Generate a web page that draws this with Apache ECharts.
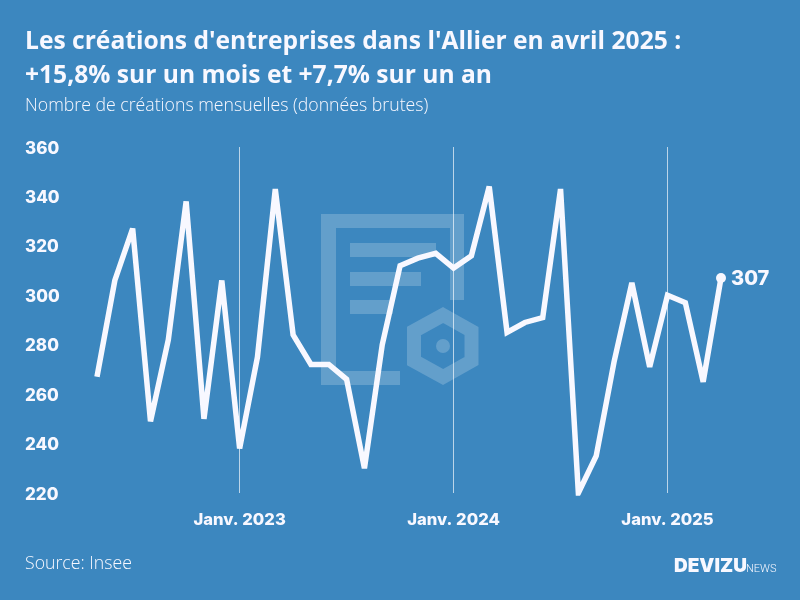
<!DOCTYPE html>
<html>
<head>
<meta charset="utf-8">
<title>Créations d'entreprises</title>
<script src="https://cdn.jsdelivr.net/npm/echarts@6/dist/echarts.min.js"></script>
<style>html,body{margin:0;padding:0;background:#3c87bf}</style>
</head>
<body>
<div id="main" style="width:800px;height:600px;"></div>
<script type="text/javascript">
var months = [
  'Mai 2022','Juin 2022','Juil. 2022','Août 2022','Sept. 2022','Oct. 2022','Nov. 2022','Déc. 2022',
  'Janv. 2023','Févr. 2023','Mars 2023','Avr. 2023','Mai 2023','Juin 2023','Juil. 2023','Août 2023','Sept. 2023','Oct. 2023','Nov. 2023','Déc. 2023',
  'Janv. 2024','Févr. 2024','Mars 2024','Avr. 2024','Mai 2024','Juin 2024','Juil. 2024','Août 2024','Sept. 2024','Oct. 2024','Nov. 2024','Déc. 2024',
  'Janv. 2025','Févr. 2025','Mars 2025','Avr. 2025'
];
var creations = [
  267,306,327,249,282,338,250,306,
  238,275,343,284,272,272,266,230,280,312,315,317,
  311,316,344,285,289,291,343,220,235,273,305,271,
  300,297,265,307
];

var WHITE = '#f8f8ff';
var LABEL_FONT = 'Inter';
var TITLE_FONT = '"Open Sans"';
var WATERMARK = 'rgba(255,255,255,0.2)';

var isJanuary = function (index, value) {
  return value.indexOf('Janv.') === 0;
};

var seriesData = creations.map(function (v, i) {
  if (i < creations.length - 1) return v;
  return {
    value: v,
    symbol: 'circle',
    symbolSize: 10,
    label: {
      show: true,
      position: 'right',
      distance: 5,
      offset: [0, 1],
      color: WHITE,
      fontFamily: LABEL_FONT,
      fontWeight: 800,
      fontSize: 20
    }
  };
});

var chart = echarts.init(document.getElementById('main'));
chart.setOption({
  animation: false,
  backgroundColor: '#3c87bf',
  title: [
    {
      text: "Les créations d'entreprises dans l'Allier en avril 2025 :\n+15,8% sur un mois et +7,7% sur un an",
      left: 25, top: 24.5, padding: 0,
      textStyle: { color: WHITE, fontFamily: TITLE_FONT, fontWeight: 700, fontSize: 24.6, lineHeight: 34 }
    },
    {
      text: 'Nombre de créations mensuelles (données brutes)',
      left: 25, top: 97, padding: 0,
      textStyle: { color: WHITE, fontFamily: TITLE_FONT, fontWeight: 300, fontSize: 17.7 }
    },
    {
      text: 'Source: Insee',
      left: 25, top: 555, padding: 0,
      textStyle: { color: WHITE, fontFamily: TITLE_FONT, fontWeight: 300, fontSize: 17.7 }
    }
  ],
  graphic: [
    { type: 'text', left: 674, top: 557, z: 1,
      style: { text: 'DEVIZU', fill: WHITE, font: '900 19px Inter' } },
    { type: 'text', left: 746, top: 564, z: 1,
      style: { text: 'NEWS', fill: WHITE, font: '300 11px Roboto' } },
    // filigrane : document + hexagone
    { type: 'polygon', z: 0, silent: true,
      shape: { points: [[321,214],[464,214],[464,300],[450,300],[450,228],[336,228],[336,371],[400,371],[400,385],[321,385]] },
      style: { fill: WATERMARK } },
    { type: 'rect', z: 0, silent: true, shape: { x: 350, y: 243, width: 86, height: 14 }, style: { fill: WATERMARK } },
    { type: 'rect', z: 0, silent: true, shape: { x: 350, y: 272, width: 71, height: 14 }, style: { fill: WATERMARK } },
    { type: 'rect', z: 0, silent: true, shape: { x: 350, y: 300, width: 43, height: 14 }, style: { fill: WATERMARK } },
    { type: 'polygon', z: 0, silent: true,
      shape: { points: [[443,315],[471.5,331],[471.5,361],[443,377],[414,361],[414,331]] },
      style: { fill: 'none', stroke: WATERMARK, lineWidth: 14 } },
    { type: 'circle', z: 0, silent: true, shape: { cx: 443, cy: 346, r: 7 }, style: { fill: WATERMARK } }
  ],
  grid: { left: 97, top: 147, width: 624, height: 346, containLabel: false },
  xAxis: {
    type: 'category',
    data: months,
    boundaryGap: false,
    axisLine: { show: false },
    axisTick: { show: false },
    axisLabel: {
      interval: isJanuary,
      margin: 18,
      color: WHITE,
      fontFamily: LABEL_FONT,
      fontWeight: 800,
      fontSize: 16.6
    },
    splitLine: {
      show: true,
      interval: isJanuary,
      lineStyle: { color: 'rgba(255,255,255,0.65)', width: 1 }
    }
  },
  yAxis: {
    type: 'value',
    min: 220,
    max: 360,
    interval: 20,
    axisLine: { show: false },
    axisTick: { show: false },
    splitLine: { show: false },
    axisLabel: {
      align: 'left',
      margin: 72,
      verticalAlign: 'top',
      padding: [-7, 0, 0, 0],
      color: WHITE,
      fontFamily: LABEL_FONT,
      fontWeight: 800,
      fontSize: 17
    }
  },
  series: [{
    type: 'line',
    data: seriesData,
    symbol: 'none',
    showSymbol: true,
    lineStyle: { color: WHITE, width: 5.5, join: 'miter', miterLimit: 4 },
    itemStyle: { color: WHITE }
  }]
});
</script>
</body>
</html>
